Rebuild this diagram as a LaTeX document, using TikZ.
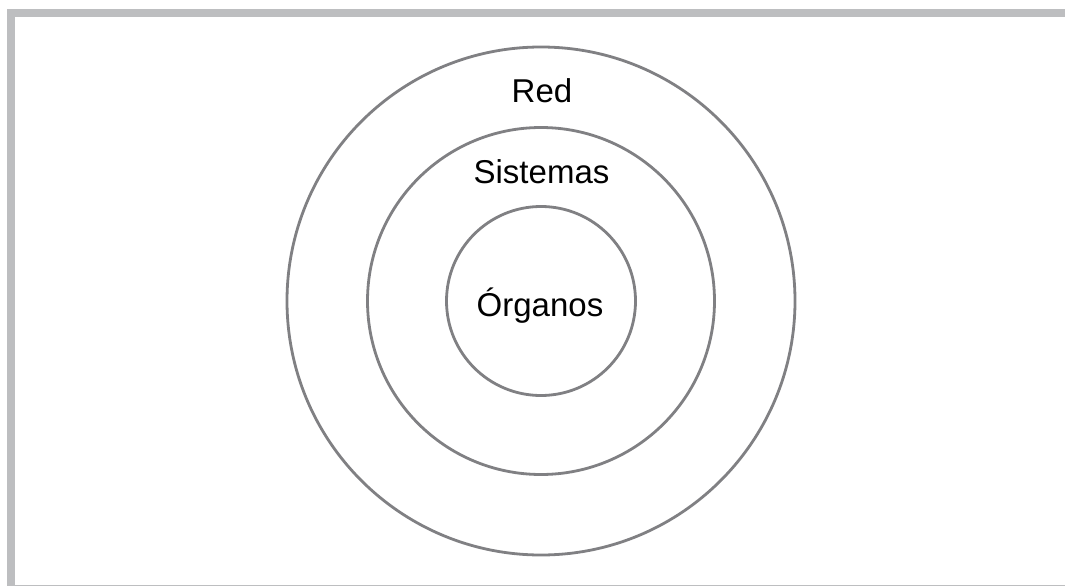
\documentclass[tikz,border=0pt]{standalone}
\usepackage{fontspec}
\setmainfont{Liberation Sans}
\definecolor{framegray}{HTML}{BDBEC0}
\definecolor{ringgray}{HTML}{808083}
\begin{document}
\begin{tikzpicture}[x=1pt,y=1pt,
  ring/.style={circle,draw=ringgray,line width=2.8pt,inner sep=0pt},
  lbl/.style={anchor=base,font=\fontsize{33}{36}\selectfont,text=black,inner sep=0pt}]
\useasboundingbox (0,0) rectangle (1065,-586);
\fill[white] (0,0) rectangle (1065,-586);
% frame
\fill[framegray] (7,-9) rectangle (1065,-17);
\fill[framegray] (7,-9) rectangle (15,-586);
\fill[framegray] (15,-584.5) rectangle (1065,-586);
% rings
\coordinate (c) at (541,-301);
\node[ring,minimum size=508pt] (red) at (c) {};
\node[ring,minimum size=347pt] (sistemas) at (c) {};
\node[ring,minimum size=189pt] (organos) at (c) {};
% labels
\node[lbl] (tred) at (542,-102) {Red};
\node[lbl] (tsis) at (541.5,-183) {Sistemas};
\node[lbl] (torg) at (540,-316) {Órganos};
\end{tikzpicture}
\end{document}
